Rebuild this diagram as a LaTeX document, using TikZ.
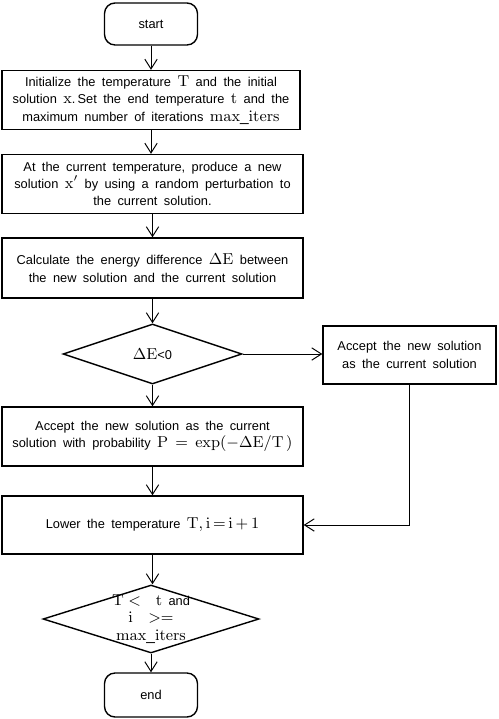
\documentclass[tikz,border=0pt]{standalone}
\usepackage[no-math]{fontspec}
\setmainfont{Liberation Sans}[WordSpace=1.8]
\usepackage{amsmath}
\usepackage{tikz}
\usetikzlibrary{arrows.meta, positioning, shapes.geometric}

% serif maths, set a little larger than the text
\newcommand{\mv}[1]{{\fontsize{8.8pt}{9.7pt}\selectfont$\mathrm{#1}$}}

\tikzset{
  stepbox/.style={draw, line width=0.8pt, align=center, inner sep=0pt},
  termbox/.style={stepbox, rounded corners=6pt},
  decision/.style={draw, diamond, line width=0.8pt, inner sep=0pt, align=center},
  flow/.style={-{Straight Barb[length=5.5pt, width=7pt]}, line width=0.55pt},
  txt/.style={font=\fontsize{7.3pt}{9.9pt}\selectfont}
}

\begin{document}
\begin{tikzpicture}[x=0.02cm, y=-0.02cm]
  \useasboundingbox (0,0) rectangle (498,719);

  % --- terminals ---
  \node[termbox, txt, minimum width=1.86cm, minimum height=0.84cm] (start) at (151,24) {start};
  \node[termbox, txt, minimum width=1.86cm, minimum height=0.88cm] (stop) at (151,695) {end};

  % --- main column ---
  \node[stepbox, txt, minimum width=5.96cm, minimum height=1.18cm] (init) at (151,100)
    {Initialize the temperature \mv{T} and the initial\\
     solution \mv{x}.\,Set the end temperature \mv{t} and the\\
     maximum number of iterations \mv{max\_iters}};
  \node[stepbox, txt, minimum width=6.02cm, minimum height=1.18cm] (perturb) at (152.5,184)
    {At the current temperature,\ produce a new\\
     solution \mv{x'} by using a random perturbation to\\
     the current solution.};
  \node[stepbox, txt, minimum width=6.02cm, minimum height=1.2cm] (energy) at (152.5,268)
    {Calculate the energy difference \mv{\Delta E} between\\
     the new solution and the current solution};
  \node[decision, txt, minimum width=3.58cm, minimum height=1.2cm] (check) at (152.5,354)
    {\mv{\Delta E}<0};
  \node[stepbox, txt, minimum width=6.02cm, minimum height=1.18cm] (prob) at (152.5,436.5)
    {Accept the new solution as the current\\
     solution with probability \mv{P \,=\, \exp(-\Delta E/T\,)}};
  \node[stepbox, txt, minimum width=6.02cm, minimum height=1.16cm] (lower) at (152.5,525)
    {Lower the temperature \mv{T,i\,{=}\,i\,{+}\,1}};
  \node[decision, minimum width=4.32cm, minimum height=1.36cm] (halt) at (151,619) {};
  \node[txt, align=center, inner sep=0pt] (haltlabel) at (halt)
    {\mv{T <\ \,t} and\\ \mv{i\ \ {>}{=}}\\ \mv{max\_iters}};

  % --- side branch ---
  \node[stepbox, txt, minimum width=3.46cm, minimum height=1.16cm] (accept) at (409.5,355)
    {Accept the new solution\\ as the current solution};

  % --- connectors ---
  \draw[flow] (start.south) -- (start.south |- init.north);
  \draw[flow] (init.south) -- (init.south |- perturb.north);
  \draw[flow] (perturb.south) -- (perturb.south |- energy.north);
  \draw[flow] (energy.south) -- (check.north);
  \draw[flow] (check.east) -- (accept.west |- check.east);
  \draw[flow] (check.south) -- (prob.north);
  \draw[flow] (prob.south) -- (lower.north);
  \draw[flow] (accept.south) |- (lower.east);
  \draw[flow] (lower.south) -- (lower.south |- halt.north);
  \draw[flow] (halt.south) -- (stop.north);
\end{tikzpicture}
\end{document}
